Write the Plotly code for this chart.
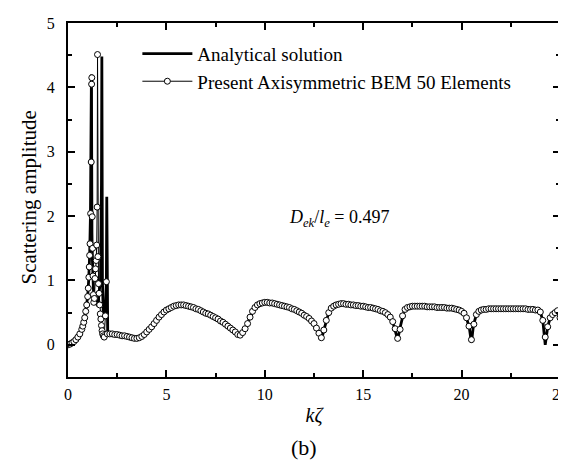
import plotly.graph_objects as go

# ---------------- data ----------------
# Present Axisymmetric BEM, resonance region kζ 0..2
bem_x_low = [0.0, 0.1, 0.2, 0.3, 0.4, 0.5, 0.6, 0.7, 0.75, 0.8, 0.85, 0.9, 0.95, 1.0,
             1.03, 1.06, 1.08, 1.10, 1.12, 1.15, 1.18, 1.20, 1.21, 1.23, 1.25, 1.27,
             1.29, 1.31, 1.34, 1.37, 1.40, 1.43, 1.46, 1.48, 1.50, 1.52, 1.55, 1.58,
             1.61, 1.64, 1.67, 1.70, 1.73, 1.76, 1.80, 1.84, 1.90, 1.95]
bem_y_low = [0.00, 0.01, 0.03, 0.05, 0.08, 0.12, 0.17, 0.24, 0.29, 0.35, 0.42, 0.52, 0.62, 0.75,
             0.88, 1.05, 1.21, 1.39, 1.57, 2.04, 2.84, 4.05, 4.15, 1.99, 1.50, 1.07,
             0.78, 0.66, 0.72, 1.03, 1.18, 1.31, 1.55, 2.14, 4.51, 1.37, 0.95, 0.80,
             0.62, 0.48, 0.40, 0.30, 0.22, 0.17, 0.14, 0.12, 0.45, 0.98]

# Present Axisymmetric BEM, kζ 2..25
bem_x_high = [
    2.000, 2.125, 2.250, 2.375, 2.500, 2.625, 2.750, 2.875, 3.000, 3.125, 3.250, 3.375,
    3.500, 3.625, 3.750, 3.875, 4.000, 4.125, 4.250, 4.375, 4.500, 4.625, 4.750, 4.875,
    5.000, 5.125, 5.250, 5.375, 5.500, 5.625, 5.750, 5.875, 6.000, 6.125, 6.250, 6.375,
    6.500, 6.625, 6.750, 6.875, 7.000, 7.125, 7.250, 7.375, 7.500, 7.625, 7.750, 7.875,
    8.000, 8.125, 8.250, 8.375, 8.500, 8.625, 8.750, 8.875, 9.000, 9.125, 9.250, 9.375,
    9.500, 9.625, 9.750, 9.875, 10.000, 10.125, 10.250, 10.375, 10.500, 10.625, 10.750, 10.875,
    11.000, 11.125, 11.250, 11.375, 11.500, 11.625, 11.750, 11.875, 12.000, 12.125, 12.250, 12.375,
    12.500, 12.625, 12.750, 12.875, 13.000, 13.125, 13.250, 13.375, 13.500, 13.625, 13.750, 13.875,
    14.000, 14.125, 14.250, 14.375, 14.500, 14.625, 14.750, 14.875, 15.000, 15.125, 15.250, 15.375,
    15.500, 15.625, 15.750, 15.875, 16.000, 16.125, 16.250, 16.375, 16.500, 16.625, 16.750, 16.875,
    17.000, 17.125, 17.250, 17.375, 17.500, 17.625, 17.750, 17.875, 18.000, 18.125, 18.250, 18.375,
    18.500, 18.625, 18.750, 18.875, 19.000, 19.125, 19.250, 19.375, 19.500, 19.625, 19.750, 19.875,
    20.000, 20.125, 20.250, 20.375, 20.500, 20.625, 20.750, 20.875, 21.000, 21.125, 21.250, 21.375,
    21.500, 21.625, 21.750, 21.875, 22.000, 22.125, 22.250, 22.375, 22.500, 22.625, 22.750, 22.875,
    23.000, 23.125, 23.250, 23.375, 23.500, 23.625, 23.750, 23.875, 24.000, 24.125, 24.250, 24.375,
    24.500, 24.625, 24.750, 24.875, 25.000]
bem_y_high = [
    0.17, 0.17, 0.17, 0.16, 0.16, 0.15, 0.14, 0.14, 0.13, 0.12, 0.11, 0.10,
    0.10, 0.11, 0.13, 0.16, 0.20, 0.24, 0.28, 0.33, 0.38, 0.43, 0.47, 0.51,
    0.54, 0.56, 0.58, 0.60, 0.61, 0.62, 0.62, 0.62, 0.61, 0.60, 0.59, 0.58,
    0.56, 0.55, 0.53, 0.51, 0.49, 0.48, 0.46, 0.44, 0.42, 0.40, 0.37, 0.35,
    0.32, 0.29, 0.26, 0.23, 0.20, 0.16, 0.15, 0.19, 0.25, 0.33, 0.43, 0.52,
    0.58, 0.62, 0.64, 0.65, 0.66, 0.66, 0.65, 0.65, 0.64, 0.63, 0.62, 0.61,
    0.60, 0.59, 0.58, 0.56, 0.55, 0.53, 0.51, 0.49, 0.46, 0.44, 0.41, 0.37,
    0.33, 0.26, 0.18, 0.11, 0.23, 0.38, 0.50, 0.57, 0.60, 0.62, 0.63, 0.64,
    0.64, 0.63, 0.63, 0.62, 0.62, 0.61, 0.61, 0.60, 0.60, 0.59, 0.58, 0.58,
    0.57, 0.56, 0.55, 0.53, 0.52, 0.50, 0.47, 0.43, 0.36, 0.25, 0.10, 0.24,
    0.45, 0.55, 0.58, 0.59, 0.60, 0.60, 0.60, 0.60, 0.60, 0.60, 0.59, 0.59,
    0.59, 0.59, 0.58, 0.58, 0.58, 0.58, 0.57, 0.57, 0.57, 0.56, 0.55, 0.54,
    0.52, 0.49, 0.42, 0.29, 0.08, 0.32, 0.47, 0.52, 0.54, 0.55, 0.55, 0.56,
    0.56, 0.56, 0.56, 0.56, 0.56, 0.56, 0.56, 0.56, 0.56, 0.56, 0.56, 0.56,
    0.56, 0.56, 0.56, 0.55, 0.55, 0.55, 0.54, 0.54, 0.51, 0.38, 0.12, 0.28,
    0.42, 0.47, 0.50, 0.53, 0.42]

# Analytical solution
ana_x = [0.0, 0.25, 0.5, 0.75, 0.9, 1.0, 1.05, 1.1, 1.14, 1.17, 1.19, 1.22, 1.30, 1.50,
         1.65, 1.70, 1.72, 1.75, 1.80, 1.90, 1.95, 1.97, 1.99, 2.02,
         2.5, 3.0, 3.5, 4.0, 4.5, 5.0, 5.5, 6.0, 6.5, 7.0, 7.5, 8.0, 8.5, 8.75,
         9.0, 9.25, 9.5, 10.0, 10.5, 11.0, 11.5, 12.0, 12.5, 12.75, 12.9, 13.0,
         13.25, 13.5, 14.0, 15.0, 16.0, 16.5, 16.75, 16.9, 17.1, 17.5, 18.5, 19.5,
         20.0, 20.25, 20.4, 20.5, 20.6, 20.75, 21.0, 22.0, 23.0, 23.875, 24.0,
         24.125, 24.25, 24.375, 24.5, 24.75, 24.9, 24.96, 24.99]
ana_y = [0.0, 0.04, 0.12, 0.29, 0.52, 0.75, 1.0, 1.39, 2.0, 3.0, 4.2, 1.5, 0.8, 0.6,
         1.0, 2.5, 4.48, 1.0, 0.4, 0.5, 1.0, 2.3, 0.5, 0.16,
         0.16, 0.13, 0.10, 0.20, 0.38, 0.54, 0.61, 0.61, 0.56, 0.49, 0.42, 0.32, 0.20, 0.14,
         0.25, 0.43, 0.58, 0.66, 0.64, 0.60, 0.55, 0.46, 0.33, 0.18, 0.10, 0.23,
         0.50, 0.60, 0.64, 0.60, 0.52, 0.36, 0.08, 0.30, 0.55, 0.60, 0.59, 0.57,
         0.52, 0.42, 0.25, 0.03, 0.30, 0.47, 0.54, 0.56, 0.56, 0.54, 0.51,
         0.38, 0.00, 0.28, 0.42, 0.50, 0.53, 0.40, 0.90]

x_ticks = [0, 5, 10, 15, 20, 25]
y_ticks = [0, 1, 2, 3, 4, 5]

bem_x = bem_x_low + bem_x_high
bem_y = bem_y_low + bem_y_high

FONT = "Liberation Serif"

fig = go.Figure()
fig.add_trace(go.Scatter(
    x=ana_x, y=ana_y, mode="lines", name="Analytical solution",
    line=dict(color="black", width=2.8),
))
fig.add_trace(go.Scatter(
    x=bem_x, y=bem_y, mode="lines+markers",
    name="Present Axisymmetric BEM 50 Elements",
    line=dict(color="black", width=1),
    marker=dict(symbol="circle", size=6, color="white",
                line=dict(color="black", width=1)),
))

axis_common = dict(
    showline=True, linecolor="black", linewidth=2, mirror="allticks",
    ticks="inside", ticklen=7, tickwidth=1.5, tickcolor="black",
    showgrid=False, zeroline=False,
    tickfont=dict(family=FONT, size=16, color="black"),
)

fig.update_xaxes(
    range=[0, 25], tickvals=x_ticks, ticktext=[str(v) for v in x_ticks],
    minor=dict(dtick=2.5, tick0=0, ticks="inside", ticklen=4, tickcolor="black", tickwidth=1.5),
    title=dict(text="<i>kζ</i>", font=dict(family=FONT, size=20, color="black"), standoff=6),
    ticklabelstandoff=2,
    **axis_common,
)
fig.update_yaxes(
    range=[-0.5, 5], tickvals=y_ticks, ticktext=[str(v) for v in y_ticks],
    minor=dict(dtick=0.5, tick0=0, ticks="inside", ticklen=4, tickcolor="black", tickwidth=1.5),
    ticklabelstandoff=8,
    **axis_common,
)

fig.update_layout(
    width=566, height=462,
    margin=dict(l=60, r=6, t=15, b=93),
    plot_bgcolor="white", paper_bgcolor="white",
    font=dict(family=FONT, color="black"),
    showlegend=True,
    legend=dict(
        x=0.141, y=0.967, xanchor="left", yanchor="top",
        bgcolor="rgba(0,0,0,0)", borderwidth=0,
        font=dict(family=FONT, size=19, color="black"),
        itemwidth=50, tracegroupgap=0,
    ),
    annotations=[
        dict(text="Scattering amplitude", textangle=-90, xref="paper", yref="paper",
             x=-0.08, y=0.506, xanchor="center", yanchor="middle", showarrow=False,
             font=dict(family=FONT, size=21, color="black")),
        dict(text=("<span style='color:black'><i>D</i><sub><i>ek</i></sub>/<i>l</i>"
                   "<sub><i>e</i></sub> = 0.497</span>"),
             xref="x", yref="y", x=13.75, y=1.97, showarrow=False,
             font=dict(family=FONT, size=18, color="black")),
        dict(text="(b)", xref="paper", yref="paper", x=0.48, y=-0.2, yanchor="middle",
             xanchor="center", showarrow=False,
             font=dict(family=FONT, size=22, color="black")),
    ],
)

fig.write_html("out.html")
